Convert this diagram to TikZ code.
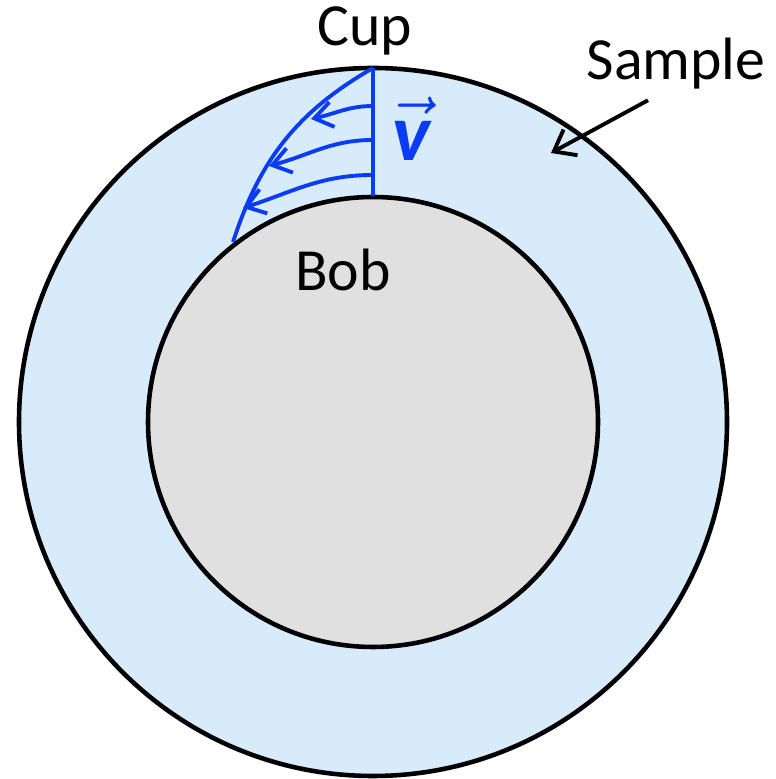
\documentclass[tikz,border=0pt]{standalone}
\usepackage{fontspec}
\setmainfont{Carlito}
\usepackage{amsmath}
\usetikzlibrary{arrows.meta,positioning}
\definecolor{sample}{HTML}{D7EBFB}
\definecolor{bob}{HTML}{E0E0E0}
\definecolor{flow}{HTML}{0A3CF5}
\tikzset{
  wall/.style={draw=black, line width=1.3pt},
  flowline/.style={draw=flow, line width=1.1pt},
  flowarrow/.style={flowline, -{Straight Barb[angle=70:2.2mm]}},
  pointer/.style={draw=black, line width=1.1pt, -{Straight Barb[angle=75:2.4mm]}},
  lbl/.style={font=\fontsize{17}{20}\selectfont, inner sep=0pt},
}

\begin{document}
\begin{tikzpicture}[x=0.01cm, y=0.01cm]
    \useasboundingbox (0,0) rectangle (775,779);
    % sample gap and bob
    \fill[sample, wall] (373,357) circle (354);
    \fill[bob, wall] (373,357) circle (225);
    % velocity profile
    \coordinate (cup) at (373,711);
    \coordinate (wall) at (373,583);
    \coordinate (edge) at (233,537);
    \draw[flowline] (cup) -- (wall);
    \draw[flowline] (cup) to[out=210, in=72] (edge);
    \coordinate (a1) at (373,673);
    \coordinate (a2) at (373,639);
    \coordinate (a3) at (373,604);
    \coordinate (t1) at (311,660);
    \coordinate (t2) at (269,613);
    \coordinate (t3) at (243,571);
    \draw[flowarrow] (a1) to[out=180, in=12] (t1);
    \draw[flowarrow] (a2) to[out=180, in=15] (t2);
    \draw[flowarrow] (a3) to[out=180, in=18] (t3);
    \node[text=flow, inner sep=0pt, font=\fontsize{23}{26}\selectfont] (vel) at (411,650) {$\vec{\text{\bfseries\itshape v}}$};
    % labels
    \node[lbl] (cuplbl) at (365,748) {Cup};
    \node[lbl] (bobl) at (343,509) {Bob};
    \node[lbl] (samp) at (676,715) {Sample};
    \coordinate (samptip) at (551,626);
    \draw[pointer] ([shift={(-28,-10)}]samp.south) -- (samptip);
  \end{tikzpicture}
\end{document}
